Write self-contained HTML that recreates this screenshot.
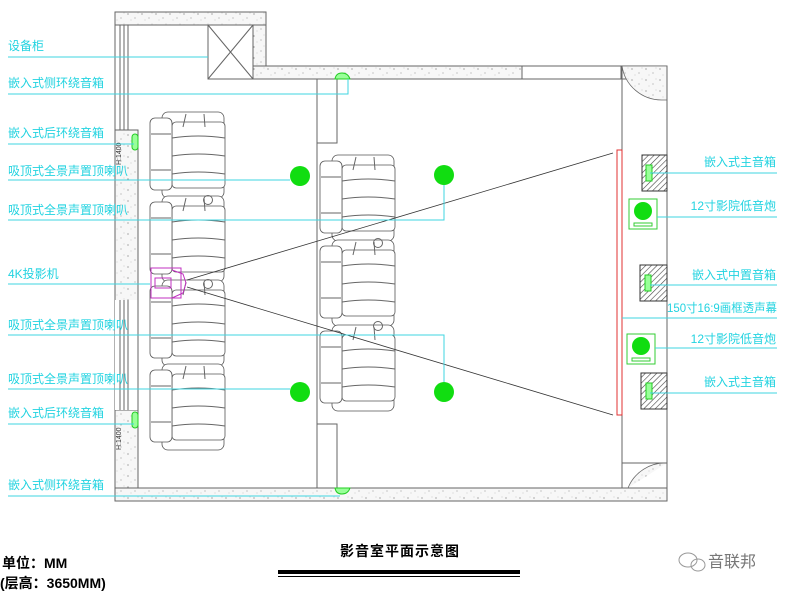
<!DOCTYPE html>
<html><head><meta charset="utf-8"><style>
html,body{margin:0;padding:0;background:#fff;width:792px;height:595px;overflow:hidden}
svg{display:block}
.lb{font-family:"Liberation Sans","Noto Sans CJK SC",sans-serif;font-size:12px;fill:#22d3e0}
.cy{stroke:#3fd6e0;stroke-width:1;fill:none}
.w{stroke:#666;stroke-width:1;fill:none}
.s{stroke:#555;stroke-width:0.8;fill:#fff}
</style></head><body>
<svg width="792" height="595" viewBox="0 0 792 595" xmlns="http://www.w3.org/2000/svg">
<defs>
<pattern id="dots" width="14" height="11" patternUnits="userSpaceOnUse">
<rect width="14" height="11" fill="#f7f7f7"/>
<circle cx="2" cy="3" r="0.6" fill="#777"/><circle cx="9" cy="7" r="0.5" fill="#777"/><circle cx="12" cy="2" r="0.4" fill="#999"/><circle cx="5" cy="9" r="0.4" fill="#999"/>
</pattern>
<pattern id="hatch" width="4" height="4" patternUnits="userSpaceOnUse" patternTransform="rotate(45)">
<rect width="4" height="4" fill="#fff"/><line x1="0" y1="0" x2="0" y2="4" stroke="#444" stroke-width="1.2"/>
</pattern>
<g id="seat">
<rect x="12" y="0" width="62" height="16" rx="6" class="s"/>
<rect x="12" y="70" width="62" height="16" rx="6" class="s"/>
<rect x="22" y="10" width="53" height="66" rx="4" class="s"/>
<rect x="0" y="6" width="22" height="72" rx="5" class="s"/>
<path d="M22 26 Q48 22 75 26 M22 44 Q48 40 75 44 M22 62 Q48 58 75 62 M1 22 H21 M1 58 H21" class="w" stroke-width="0.7"/>
<path d="M36 2 L33 15 M54 2 L55 15" class="w" stroke-width="0.7"/>
</g>
</defs>

<!-- walls -->
<rect x="115" y="12" width="151" height="13" fill="url(#dots)" stroke="#666"/>
<rect x="253" y="25" width="13" height="41" fill="url(#dots)" stroke="#666"/>
<rect x="253" y="66" width="269" height="13" fill="url(#dots)" stroke="#666"/>
<rect x="522" y="66" width="99" height="13" fill="#fff" stroke="#666"/>
<rect x="621" y="66" width="46" height="13" fill="url(#dots)" stroke="#666"/>
<path d="M622 66 A40 40 0 0 0 662 100 L667 100 L667 66 Z" fill="url(#dots)" stroke="#666" stroke-width="0.8"/>
<line x1="622" y1="66" x2="622" y2="488" class="w"/>
<line x1="667" y1="66" x2="667" y2="501" class="w"/>
<rect x="115" y="488" width="552" height="13" fill="url(#dots)" stroke="#666"/>
<path d="M628 488 A40 40 0 0 1 667 463" fill="url(#dots)" stroke="#666" stroke-width="0.8"/>
<line x1="622" y1="463" x2="667" y2="463" class="w"/>
<!-- left wall -->
<line x1="115" y1="12" x2="115" y2="501" class="w"/>
<line x1="120" y1="25" x2="120" y2="130" class="w"/>
<line x1="124" y1="25" x2="124" y2="130" class="w"/>
<line x1="128" y1="25" x2="128" y2="130" class="w"/>
<rect x="115" y="130" width="23" height="280" fill="url(#dots)" stroke="#666"/>
<rect x="115" y="410" width="23" height="78" fill="url(#dots)" stroke="#666"/>
<line x1="120" y1="300" x2="120" y2="410" class="w"/>
<line x1="124" y1="300" x2="124" y2="410" class="w"/>
<line x1="128" y1="300" x2="128" y2="410" class="w"/>
<rect x="115" y="300" width="23" height="110" fill="#fff" stroke="none"/>
<line x1="120" y1="300" x2="120" y2="410" class="w"/>
<line x1="124" y1="300" x2="124" y2="410" class="w"/>
<line x1="128" y1="300" x2="128" y2="410" class="w"/>
<line x1="138" y1="130" x2="138" y2="488" class="w"/>
<text x="121" y="165" font-size="7" fill="#333" transform="rotate(-90 121 165)" font-family="Liberation Sans">H:1400</text>
<text x="121" y="450" font-size="7" fill="#333" transform="rotate(-90 121 450)" font-family="Liberation Sans">H:1400</text>
<!-- equipment cabinet -->
<rect x="208" y="25" width="45" height="54" class="w"/>
<path d="M208 25 L253 79 M253 25 L208 79" class="w"/>
<!-- partition -->
<line x1="317" y1="79" x2="317" y2="488" class="w"/>
<path d="M317 143 H337 V79" class="w"/>
<path d="M317 424 H337 V488" class="w"/>

<!-- seats -->
<use href="#seat" x="150" y="112"/>
<use href="#seat" x="150" y="196"/>
<use href="#seat" x="150" y="280"/>
<use href="#seat" x="150" y="364"/>
<use href="#seat" x="320" y="155"/>
<use href="#seat" x="320" y="240"/>
<use href="#seat" x="320" y="325"/>
<circle cx="208" cy="200" r="4.5" class="w"/>
<circle cx="208" cy="284" r="4.5" class="w"/>
<circle cx="378" cy="243" r="4.5" class="w"/>
<circle cx="378" cy="326" r="4.5" class="w"/>

<!-- projector -->
<rect x="151" y="268" width="30" height="30" fill="none" stroke="#c030c0"/>
<path d="M172 270 L183 274 L186 283 L183 293 L172 298" fill="none" stroke="#c030c0"/>
<rect x="155" y="278" width="16" height="10" fill="none" stroke="#c030c0"/>
<line x1="187" y1="280" x2="613" y2="153" stroke="#333" stroke-width="0.8"/>
<line x1="187" y1="287" x2="613" y2="415" stroke="#333" stroke-width="0.8"/>

<!-- screen -->
<rect x="617" y="150" width="5" height="265" fill="none" stroke="#e03030"/>

<!-- speakers right -->
<rect x="642" y="155" width="25" height="36" fill="url(#hatch)" stroke="#333"/>
<rect x="646" y="165" width="6" height="16" fill="#9f9" stroke="#2c2"/>
<rect x="640" y="265" width="27" height="36" fill="url(#hatch)" stroke="#333"/>
<rect x="645" y="275" width="6" height="16" fill="#9f9" stroke="#2c2"/>
<rect x="641" y="373" width="26" height="36" fill="url(#hatch)" stroke="#333"/>
<rect x="646" y="383" width="6" height="16" fill="#9f9" stroke="#2c2"/>
<rect x="629" y="199" width="28" height="30" fill="none" stroke="#3c3"/>
<circle cx="643" cy="211" r="9" fill="#11dd11"/>
<rect x="634" y="223" width="18" height="3" fill="none" stroke="#3c3"/>
<rect x="627" y="334" width="28" height="30" fill="none" stroke="#3c3"/>
<circle cx="641" cy="346" r="9" fill="#11dd11"/>
<rect x="632" y="358" width="18" height="3" fill="none" stroke="#3c3"/>
<!-- surround speakers -->
<path d="M335 79 Q336 73 342 73 Q348 73 350 79 Z" fill="#9f9" stroke="#2c2"/>
<path d="M335 488 Q336 494 342 494 Q348 494 350 488 Z" fill="#9f9" stroke="#2c2"/>
<rect x="132" y="134" width="6" height="16" rx="3" fill="#9f9" stroke="#2c2"/>
<rect x="132" y="412" width="6" height="16" rx="3" fill="#9f9" stroke="#2c2"/>

<!-- ceiling speakers -->
<circle cx="300" cy="176" r="10" fill="#11dd11"/>
<circle cx="444" cy="125" r="0" fill="none"/>
<circle cx="444" cy="175" r="10" fill="#11dd11"/>
<circle cx="300" cy="392" r="10" fill="#11dd11"/>
<circle cx="444" cy="392" r="10" fill="#11dd11"/>

<!-- leader lines left -->
<path class="cy" d="M8 57 H208"/>
<path class="cy" d="M8 94 H348 V79"/>
<path class="cy" d="M8 144 H134"/>
<path class="cy" d="M8 180 H290"/>
<path class="cy" d="M8 220 H444 V185"/>
<path class="cy" d="M8 284 H150"/>
<path class="cy" d="M8 335 H444 V382"/>
<path class="cy" d="M8 389 H290"/>
<path class="cy" d="M8 424 H134"/>
<path class="cy" d="M8 496 H340"/>
<!-- leader lines right -->
<path class="cy" d="M650 173 H777"/>
<path class="cy" d="M657 217 H777"/>
<path class="cy" d="M650 285 H777"/>
<path class="cy" d="M622 318 H777"/>
<path class="cy" d="M655 348 H777"/>
<path class="cy" d="M650 393 H777"/>

<!-- labels left -->
<g class="lb">
<text x="8" y="50">设备柜</text>
<text x="8" y="87">嵌入式侧环绕音箱</text>
<text x="8" y="137">嵌入式后环绕音箱</text>
<text x="8" y="175">吸顶式全景声置顶喇叭</text>
<text x="8" y="214">吸顶式全景声置顶喇叭</text>
<text x="8" y="278">4K投影机</text>
<text x="8" y="329">吸顶式全景声置顶喇叭</text>
<text x="8" y="383">吸顶式全景声置顶喇叭</text>
<text x="8" y="417">嵌入式后环绕音箱</text>
<text x="8" y="489">嵌入式侧环绕音箱</text>
</g>
<g class="lb" text-anchor="end">
<text x="776" y="166">嵌入式主音箱</text>
<text x="776" y="210">12寸影院低音炮</text>
<text x="776" y="279">嵌入式中置音箱</text>
<text x="777" y="312" textLength="110" lengthAdjust="spacingAndGlyphs">150寸16:9画框透声幕</text>
<text x="776" y="343">12寸影院低音炮</text>
<text x="776" y="386">嵌入式主音箱</text>
</g>

<!-- bottom -->
<g font-family="Liberation Sans,'Noto Sans CJK SC',sans-serif" font-weight="bold" fill="#000">
<text x="2" y="568" font-size="14">单位：MM</text>
<text x="0" y="588" font-size="14">(层高：3650MM)</text>
<text x="340" y="556" font-size="14" letter-spacing="1">影音室平面示意图</text>
</g>
<rect x="278" y="570" width="242" height="4" fill="#000"/>
<rect x="278" y="576" width="242" height="1" fill="#000"/>
<g fill="none" stroke="#999" stroke-width="1">
<ellipse cx="688" cy="560" rx="9" ry="7"/>
<ellipse cx="698" cy="565" rx="7" ry="6"/>
</g>
<text x="708" y="567" font-size="16" fill="#777" font-family="'Noto Sans CJK SC',sans-serif">音联邦</text>
</svg>
</body></html>
